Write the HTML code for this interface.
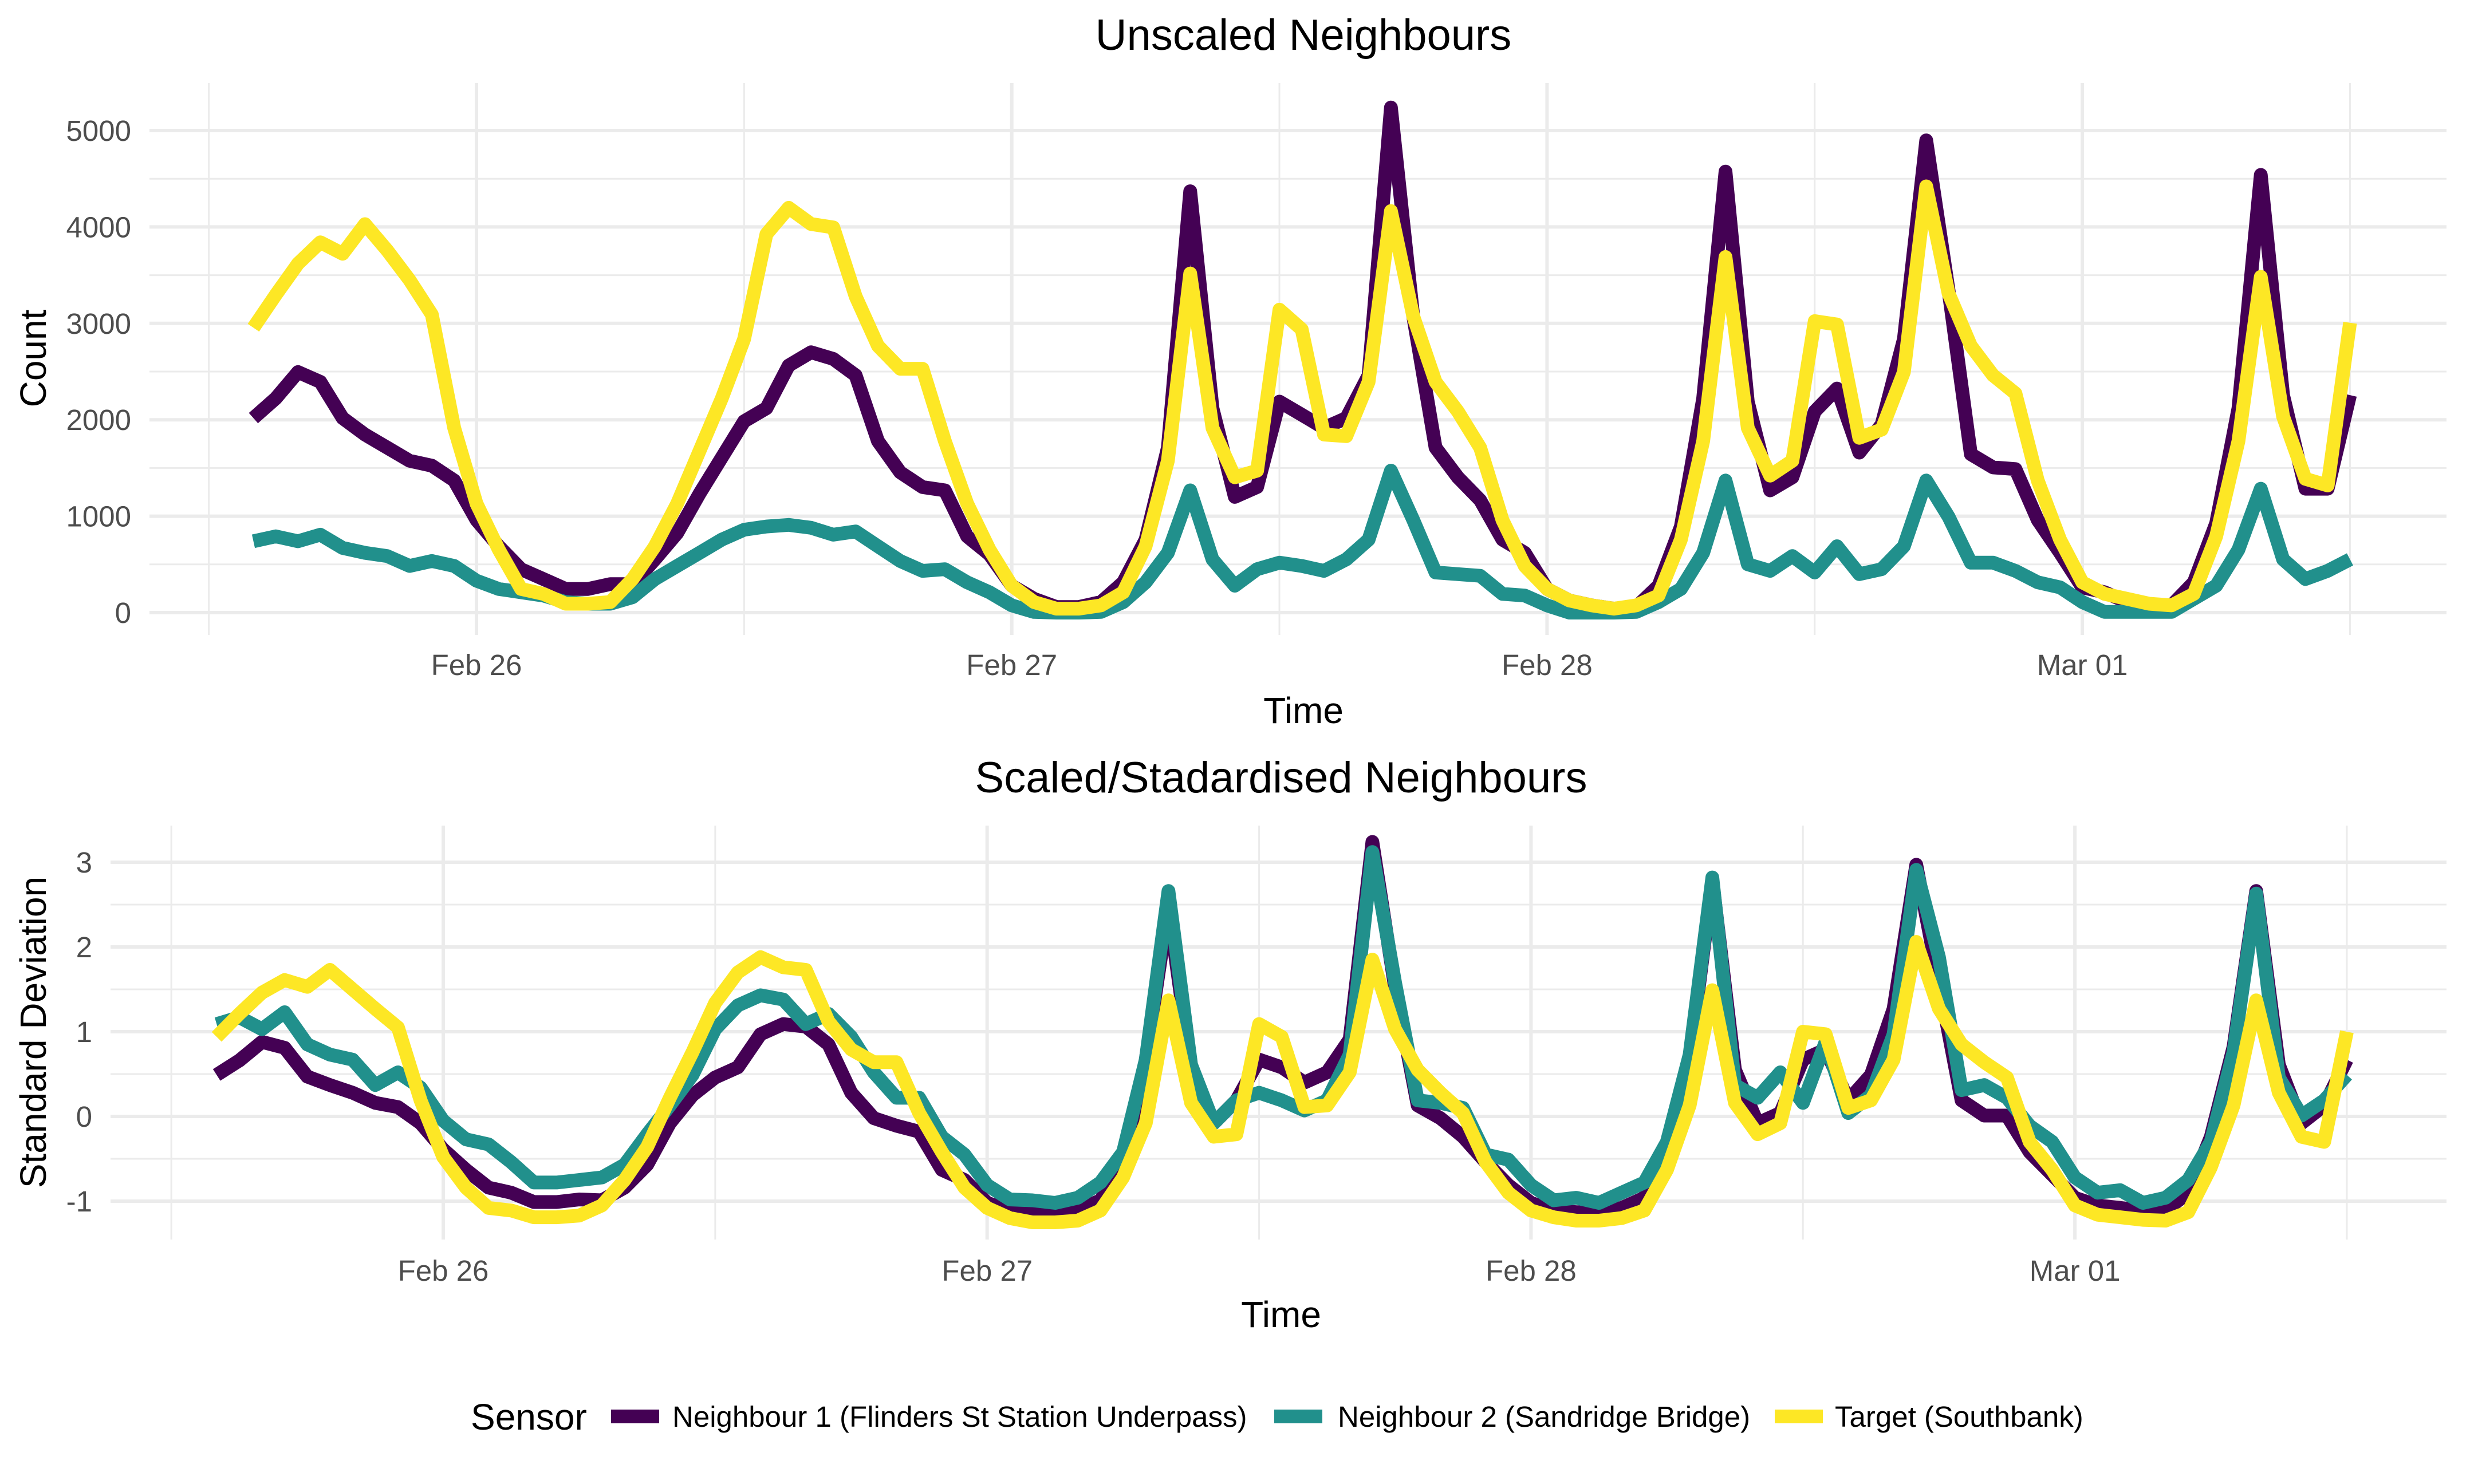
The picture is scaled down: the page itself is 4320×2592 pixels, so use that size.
<!DOCTYPE html>
<html><head><meta charset="utf-8"><style>
html,body{margin:0;padding:0;background:#fff;}
svg{display:block;font-family:"Liberation Sans",Arial,sans-serif;}
</style></head><body>
<svg id="chart" width="4320" height="2592" viewBox="0 0 4320 2592" xmlns="http://www.w3.org/2000/svg">
<rect x="0" y="0" width="4320" height="2592" fill="#fff"/>
<g id="top"></g>
<g id="bot"></g>
<text x="2276" y="87" font-size="76" text-anchor="middle" fill="#000">Unscaled Neighbours</text>
<text x="2276" y="1263" font-size="64" text-anchor="middle" fill="#000">Time</text>
<text transform="translate(80,626) rotate(-90)" font-size="64" text-anchor="middle" fill="#000">Count</text>
<text x="2237" y="1384" font-size="76" text-anchor="middle" fill="#000">Scaled/Stadardised Neighbours</text>
<text x="2237" y="2318" font-size="64" text-anchor="middle" fill="#000">Time</text>
<text transform="translate(80,1803) rotate(-90)" font-size="64" text-anchor="middle" fill="#000">Standard Deviation</text>
<g>
<text x="822" y="2497" font-size="64" fill="#000">Sensor</text>
<rect x="1067" y="2462" width="84" height="24" fill="#440154"/>
<text x="1174" y="2492" font-size="51" fill="#000">Neighbour 1 (Flinders St Station Underpass)</text>
<rect x="2225" y="2462" width="84" height="24" fill="#21908C"/>
<text x="2336" y="2492" font-size="51" fill="#000">Neighbour 2 (Sandridge Bridge)</text>
<rect x="3099" y="2462" width="84" height="24" fill="#FDE725"/>
<text x="3204" y="2492" font-size="51" fill="#000">Target (Southbank)</text>
</g>
</svg>
<script>
// hours since Feb 26 00:00 for first point
const startHour = -10;
const dayLabels = ["Feb 26","Feb 27","Feb 28","Mar 01"];
const countTicks = [0,1000,2000,3000,4000,5000];
const sdTicks = [-1,0,1,2,3];
const seriesNames = ["Neighbour 1","Neighbour 2","Target"];
const countN1 = [2018,2222,2495,2393,2018,1847,1711,1575,1524,1370,961,688,450,348,245,245,296,296,552,825,1234,1609,1984,2120,2563,2700,2631,2461,1779,1455,1302,1268,791,603,279,143,58,58,109,314,757,1711,4370,2120,1200,1302,2188,2052,1915,2018,2461,5239,3074,1711,1404,1166,757,620,245,126,75,41,58,279,893,2222,4574,2188,1268,1404,2086,2324,1660,1950,2836,4898,3347,1643,1506,1489,961,620,262,211,109,41,75,314,927,2120,4540,2256,1285,1285,2256];
const countN2 = [740,791,740,808,671,620,586,484,535,484,331,245,211,177,109,92,92,160,348,484,620,757,859,893,910,880,808,842,688,535,433,450,314,211,75,7,0,0,7,109,314,620,1268,552,279,450,518,484,433,552,757,1472,961,416,399,382,194,177,75,0,0,0,7,109,245,620,1370,501,433,586,416,688,399,450,688,1370,995,518,518,433,314,262,109,7,7,7,7,143,279,654,1285,552,348,433,552];
const countT = [2955,3296,3620,3841,3722,4029,3756,3449,3091,1915,1131,654,245,194,92,92,109,348,688,1131,1677,2222,2836,3926,4199,4030,3995,3279,2767,2529,2529,1779,1131,654,279,109,41,41,75,211,688,1575,3517,1915,1404,1472,3142,2938,1847,1830,2393,4165,3074,2393,2086,1711,961,484,245,126,75,41,75,177,757,1779,3688,1915,1421,1575,3023,2989,1813,1898,2495,4421,3313,2767,2461,2273,1370,757,314,194,143,92,75,194,791,1779,3483,2035,1387,1319,3006];
const sdN1 = [0.49,0.66,0.88,0.81,0.47,0.37,0.28,0.16,0.11,-0.08,-0.39,-0.63,-0.84,-0.90,-1.01,-1.01,-0.98,-0.99,-0.84,-0.57,-0.08,0.25,0.46,0.58,0.97,1.09,1.06,0.85,0.28,-0.02,-0.11,-0.18,-0.63,-0.75,-1.02,-1.11,-1.13,-1.13,-1.11,-0.99,-0.54,0.67,2.48,0.55,-0.08,0.19,0.67,0.58,0.40,0.52,0.91,3.24,1.52,0.13,-0.02,-0.24,-0.54,-0.81,-1.02,-1.11,-1.13,-1.13,-1.08,-0.96,-0.30,0.67,2.79,0.55,-0.08,0.04,0.67,0.79,0.19,0.49,1.27,2.97,1.58,0.19,0.01,0.01,-0.42,-0.69,-0.96,-1.05,-1.08,-1.11,-1.11,-0.90,-0.24,0.82,2.66,0.61,-0.08,0.13,0.67];
const sdN2 = [1.09,1.17,1.03,1.23,0.85,0.73,0.67,0.37,0.52,0.34,-0.05,-0.27,-0.33,-0.54,-0.78,-0.78,-0.75,-0.72,-0.57,-0.21,0.13,0.49,1.03,1.31,1.43,1.38,1.09,1.21,0.94,0.52,0.22,0.22,-0.24,-0.45,-0.81,-0.98,-0.99,-1.02,-0.96,-0.78,-0.42,0.67,2.66,0.61,-0.08,0.19,0.28,0.19,0.07,0.19,0.73,3.12,1.58,0.19,0.16,0.10,-0.45,-0.51,-0.81,-0.99,-0.96,-1.02,-0.90,-0.78,-0.30,0.73,2.82,0.37,0.22,0.52,0.16,0.88,0.04,0.25,0.97,2.91,1.88,0.31,0.37,0.22,-0.11,-0.30,-0.72,-0.90,-0.87,-1.02,-0.96,-0.75,-0.30,0.76,2.63,0.46,0.01,0.19,0.49];
const sdT = [0.94,1.21,1.46,1.61,1.53,1.73,1.50,1.27,1.05,0.19,-0.48,-0.84,-1.08,-1.11,-1.19,-1.19,-1.17,-1.05,-0.75,-0.36,0.22,0.76,1.34,1.70,1.88,1.76,1.73,1.12,0.79,0.64,0.64,0.04,-0.42,-0.84,-1.08,-1.20,-1.25,-1.25,-1.23,-1.11,-0.72,-0.08,1.37,0.16,-0.24,-0.21,1.09,0.94,0.11,0.13,0.52,1.85,1.03,0.55,0.28,0.04,-0.54,-0.90,-1.11,-1.19,-1.23,-1.23,-1.20,-1.11,-0.63,0.13,1.49,0.16,-0.21,-0.08,1.00,0.97,0.10,0.19,0.67,2.06,1.27,0.85,0.64,0.46,-0.30,-0.63,-1.05,-1.16,-1.19,-1.22,-1.23,-1.13,-0.60,0.13,1.37,0.28,-0.24,-0.30,1.00];

const NS="http://www.w3.org/2000/svg";
const colors=["#440154","#21908C","#FDE725"];
function mk(parent,tag,attrs){const e=document.createElementNS(NS,tag);for(const k in attrs)e.setAttribute(k,attrs[k]);parent.appendChild(e);return e;}

function drawPanel(g,cfg){
  const xs=h=>cfg.x0+h/24*cfg.day;
  const ys=v=>cfg.yZero-(v)*cfg.yUnit;
  // minor horizontal grid
  for(let k=0;k<cfg.ticks.length-1;k++){
    const v=(cfg.ticks[k]+cfg.ticks[k+1])/2;
    const l=mk(g,"line",{x1:cfg.left,x2:cfg.right,y1:ys(v),y2:ys(v),stroke:"#EBEBEB","stroke-width":3});
    
    
  }
  // minor vertical grid
  for(let d=-1;d<dayLabels.length;d++){
    const x=xs((d+0.5)*24);
    const l=mk(g,"line",{x1:x,x2:x,y1:cfg.top,y2:cfg.bottom,stroke:"#EBEBEB","stroke-width":3});
    
    
  }
  cfg.ticks.forEach(v=>{
    const l=mk(g,"line",{x1:cfg.left,x2:cfg.right,y1:ys(v),y2:ys(v),stroke:"#EBEBEB","stroke-width":6});
    
    
    const t=mk(g,"text",{x:cfg.labRight,y:ys(v)+18,"font-size":51,"text-anchor":"end",fill:"#4D4D4D"});
    t.textContent=cfg.fmt(v);
    
    
  });
  dayLabels.forEach((lab,d)=>{
    const x=xs(d*24);
    const l=mk(g,"line",{x1:x,x2:x,y1:cfg.top,y2:cfg.bottom,stroke:"#EBEBEB","stroke-width":6});
    
    
    const t=mk(g,"text",{x:x,y:cfg.xLabY,"font-size":51,"text-anchor":"middle",fill:"#4D4D4D"});
    t.textContent=lab;
    
    
  });
  cfg.series.forEach((arr,s)=>{
    const pts=arr.map((v,i)=>xs(startHour+i).toFixed(1)+","+ys(v).toFixed(1)).join(" ");
    const p=mk(g,"polyline",{points:pts,fill:"none",stroke:colors[s],"stroke-width":24,"stroke-linejoin":"round","stroke-linecap":"butt"});
    
    
  });
}
drawPanel(document.getElementById("top"),{x0:832,day:934.7,yZero:1070,yUnit:0.1684,left:261,right:4272,top:145,bottom:1109,
  ticks:countTicks,fmt:v=>String(v),labRight:229,xLabY:1179,series:[countN1,countN2,countT]});
drawPanel(document.getElementById("bot"),{x0:774,day:949.7,yZero:1950,yUnit:148,left:193,right:4272,top:1442,bottom:2165,
  ticks:sdTicks,fmt:v=>String(v),labRight:161,xLabY:2237,series:[sdN1,sdN2,sdT]});
</script>
</body></html>
